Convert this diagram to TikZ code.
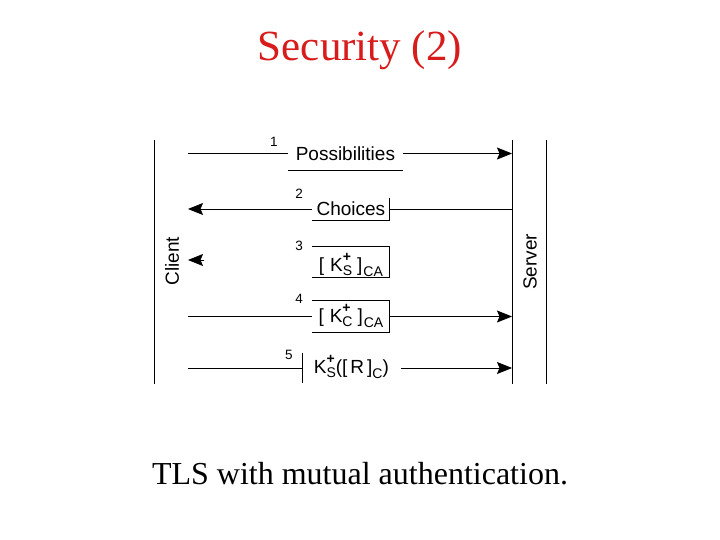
\documentclass[tikz,border=0pt]{standalone}
\usepackage{fontspec}
\setmainfont{Liberation Serif}
\setsansfont{Liberation Sans}
\usetikzlibrary{arrows.meta, positioning}
\definecolor{ctitle}{HTML}{D81B1B}
\tikzset{
  every picture/.style={x=1pt, y=-1pt, line width=0.8pt},
  title/.style={font=\fontsize{43}{46}\selectfont, text=ctitle, anchor=base},
  caption/.style={font=\fontsize{32}{35}\selectfont, anchor=base},
  party/.style={font=\sffamily\fontsize{19}{20}\selectfont, rotate=90, inner sep=0pt},
  msg/.style={font=\sffamily\fontsize{19}{20}\selectfont, inner sep=0pt, anchor=base west, align=center},
  num/.style={font=\sffamily\fontsize{13.5}{14}\selectfont, inner sep=0pt},
  arrow/.style={-{Stealth[length=15pt, width=12pt, inset=2.5pt]}},
}
\newcommand{\kpub}[1]{K\makebox[0pt][l]{\raisebox{10pt}{\fontsize{14}{15}\selectfont\bfseries +}}\raisebox{-4pt}{\fontsize{14}{15}\selectfont #1}}
\newcommand{\lowtxt}[1]{\raisebox{-5.5pt}{\fontsize{14}{15}\selectfont #1}}

\begin{document}
\begin{tikzpicture}
  \useasboundingbox (0,0) rectangle (720,540);
  \node[title] (title) at (360,61) {Security (2)};
  % lifelines
  \draw (154,140) -- (154,384);
  \draw (512,140) -- (512,384);
  \draw (546,140) -- (546,384);
  \coordinate (cl) at (188,0);
  \coordinate (sv) at (512,0);
  \node[party] (client) at (172,261) {Client};
  \node[party] (server) at (530,262) {Server};
  % messages
  \node[msg, text height=24pt, text depth=9pt, minimum width=114pt] (m1) at (288,161) {Possibilities};
  \node[msg, text height=17pt, text depth=5pt, minimum width=77pt] (m2) at (312,215) {Choices};
  \node[msg, text height=24pt, text depth=6pt, minimum width=77pt] (m3) at (312,271) {[\hspace{6pt}\kpub{S}\hspace{5pt}]\hspace{1pt}\lowtxt{CA}};
  \node[msg, text height=21pt, text depth=10pt, minimum width=77pt] (m4) at (312,322) {[\hspace{6pt}\kpub{C}\hspace{5pt}]\hspace{1pt}\lowtxt{CA}};
  \node[msg, text height=20pt, text depth=10pt, minimum width=98pt] (m5) at (302,373) {\kpub{S}([\hspace{3pt}R\hspace{3pt}]\lowtxt{C})};
  \node[num] (n1) at (274,142) {1};
  \node[num] (n2) at (299,194) {2};
  \node[num] (n3) at (299,246) {3};
  \node[num] (n4) at (299,299) {4};
  \node[num] (n5) at (289,355) {5};
  % box edges
  \draw (m1.south west) -- (m1.south east);
  \draw (m2.north east) -- (m2.south east) -- (m2.south west);
  \draw (m3.north west) -- (m3.north east) -- (m3.south east) -- (m3.south west);
  \draw (m4.north west) -- (m4.north east) -- (m4.south east) -- (m4.south west);
  \draw (m5.north west) -- (m5.south west);
  % connectors
  \draw (cl |- m1.west) -- (m1.west);
  \draw[arrow] (m1.east) -- (sv |- m1.east);
  \draw (sv |- m2.east) -- (m2.east);
  \draw[arrow] (m2.west) -- (cl |- m2.west);
  \coordinate (a3) at ([xshift=16pt]cl |- 0,260);
  \draw[arrow] (a3) -- (cl |- a3);
  \draw (cl |- m4.west) -- (m4.west);
  \draw[arrow] (m4.east) -- (sv |- m4.east);
  \draw (cl |- m5.west) -- (m5.west);
  \draw[arrow] (m5.east) -- (sv |- m5.east);
  \node[caption] (cap) at (360,484) {TLS with mutual authentication.};
\end{tikzpicture}
\end{document}
